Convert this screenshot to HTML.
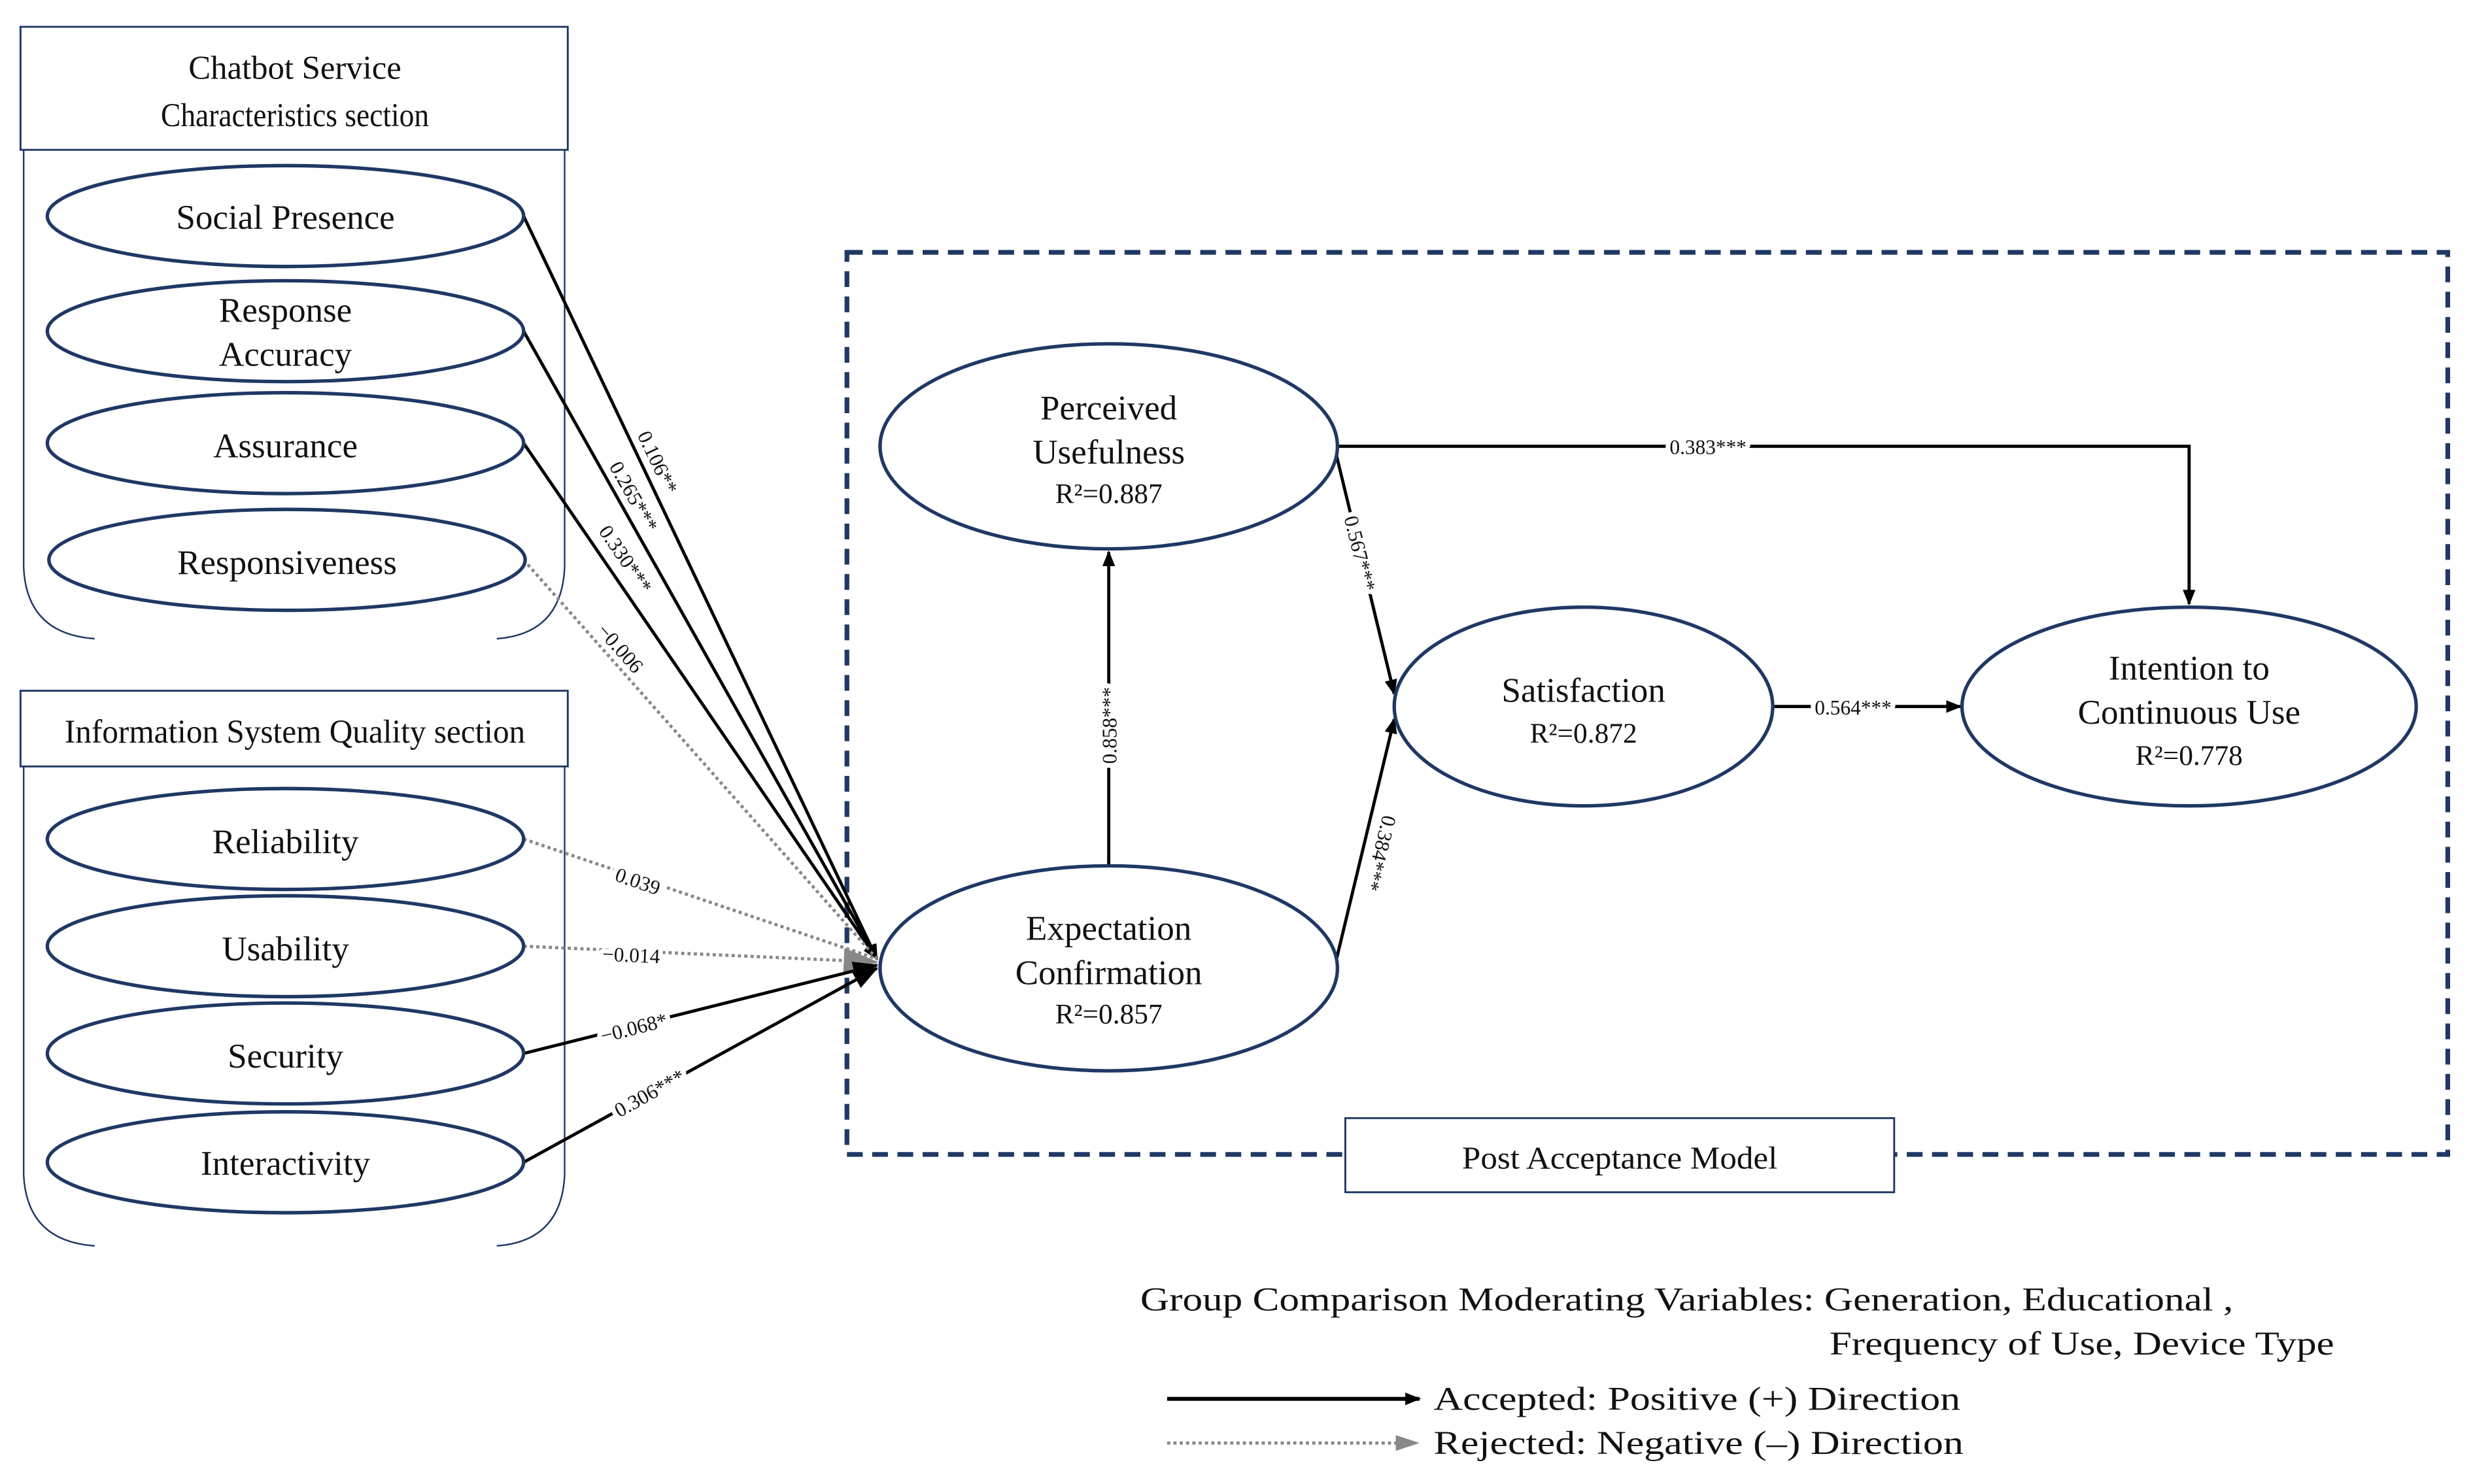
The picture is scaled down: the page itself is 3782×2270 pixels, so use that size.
<!DOCTYPE html>
<html><head><meta charset="utf-8"><style>
html,body{margin:0;padding:0;background:#fff;}
svg{display:block;}
text{font-family:"Liberation Serif","DejaVu Serif",serif;fill:#111;}
.h{paint-order:stroke;stroke:#fff;stroke-width:6px;stroke-linejoin:round;}
</style></head><body>
<svg width="3782" height="2270" viewBox="0 0 1568 941" preserveAspectRatio="none" xmlns="http://www.w3.org/2000/svg">
<defs>
<marker id="ab" markerWidth="10" markerHeight="8" refX="9" refY="4" orient="auto" markerUnits="userSpaceOnUse"><path d="M0,0 L10,4 L0,8 z" fill="#000"/></marker>
<marker id="ag" markerWidth="22" markerHeight="16" refX="21" refY="8" orient="auto" markerUnits="userSpaceOnUse"><path d="M0,0 L22,8 L0,16 z" fill="#888"/></marker>
<marker id="abig" markerWidth="16" markerHeight="12" refX="15" refY="6" orient="auto" markerUnits="userSpaceOnUse"><path d="M0,0 L16,6 L0,12 z" fill="#000"/></marker>
</defs>
<g fill="none" stroke="#1f3864">
<rect x="13" y="17" width="347" height="78" stroke-width="1.2" fill="#fff"/>
<path d="M15,95 V360 Q17,402 60,405 M358,95 V360 Q356,402 315,405" stroke-width="1"/>
<rect x="13" y="438" width="347" height="48" stroke-width="1.2" fill="#fff"/>
<path d="M15,486 V745 Q17,787 60,790 M358,486 V745 Q356,787 315,790" stroke-width="1"/>
<rect x="537" y="160" width="1015" height="572" stroke-width="3" stroke-dasharray="10,6"/>
</g>
<rect x="853" y="709" width="348" height="47" fill="#fff" stroke="#1f3864" stroke-width="1.2"/>
<text x="1027" y="741" font-size="20" text-anchor="middle" textLength="200" lengthAdjust="spacingAndGlyphs">Post Acceptance Model</text>
<text x="187" y="50" font-size="21" text-anchor="middle" textLength="135" lengthAdjust="spacingAndGlyphs">Chatbot Service</text>
<text x="187" y="80" font-size="21" text-anchor="middle" textLength="170" lengthAdjust="spacingAndGlyphs">Characteristics section</text>
<text x="187" y="471" font-size="21" text-anchor="middle" textLength="292" lengthAdjust="spacingAndGlyphs">Information System Quality section</text>

<!-- left arrows -->
<g stroke-width="2" fill="none">
<line x1="332" y1="137" x2="556" y2="608" stroke="#000" marker-end="url(#ab)"/>
<line x1="332" y1="210" x2="556" y2="608" stroke="#000" marker-end="url(#ab)"/>
<line x1="332" y1="281" x2="556" y2="608" stroke="#000" marker-end="url(#ab)"/>
<line x1="332" y1="355" x2="556" y2="608" stroke="#888" stroke-dasharray="2,2"/>
<line x1="332" y1="532" x2="556" y2="608" stroke="#888" stroke-dasharray="2,2"/>
<line x1="332" y1="600" x2="556" y2="610" stroke="#888" stroke-dasharray="2,2" marker-end="url(#ag)"/>
<line x1="332" y1="668" x2="556" y2="612" stroke="#000" marker-end="url(#abig)"/>
<line x1="332" y1="737" x2="556" y2="614" stroke="#000" marker-end="url(#abig)"/>
</g>
<g font-size="13">
<text class="h" transform="translate(413,295) rotate(64.5)" text-anchor="middle">0.106**</text>
<text class="h" transform="translate(398,317) rotate(60.5)" text-anchor="middle">0.265***</text>
<text class="h" transform="translate(393,357) rotate(55.5)" text-anchor="middle">0.330***</text>
<text class="h" transform="translate(390,414) rotate(48.5)" text-anchor="middle">−0.006</text>
<text class="h" transform="translate(403,563) rotate(19)" text-anchor="middle">0.039</text>
<text class="h" transform="translate(400,610) rotate(2.5)" text-anchor="middle">−0.014</text>
<text class="h" transform="translate(403,656) rotate(-14.4)" text-anchor="middle">−0.068*</text>
<text class="h" transform="translate(414,697) rotate(-29)" text-anchor="middle">0.306***</text>
</g>

<!-- ellipses left -->
<g fill="#fff" stroke="#1f3864" stroke-width="2.2">
<ellipse cx="181" cy="137" rx="151" ry="32"/>
<ellipse cx="181" cy="210" rx="151" ry="32"/>
<ellipse cx="181" cy="281" rx="151" ry="32"/>
<ellipse cx="182" cy="355" rx="151" ry="32"/>
<ellipse cx="181" cy="532" rx="151" ry="32"/>
<ellipse cx="181" cy="600" rx="151" ry="32"/>
<ellipse cx="181" cy="668" rx="151" ry="32"/>
<ellipse cx="181" cy="737" rx="151" ry="32"/>
</g>
<g font-size="22" text-anchor="middle">
<text x="181" y="145">Social Presence</text>
<text x="181" y="204">Response</text>
<text x="181" y="232">Accuracy</text>
<text x="181" y="290">Assurance</text>
<text x="182" y="364">Responsiveness</text>
<text x="181" y="541">Reliability</text>
<text x="181" y="609">Usability</text>
<text x="181" y="677">Security</text>
<text x="181" y="745">Interactivity</text>
</g>

<!-- PAM arrows -->
<g stroke="#000" stroke-width="2" fill="none">
<line x1="703" y1="549" x2="703" y2="350" marker-end="url(#ab)"/>
<line x1="846" y1="283" x2="884" y2="440" marker-end="url(#ab)"/>
<line x1="846" y1="614" x2="884" y2="456" marker-end="url(#ab)"/>
<path d="M846,283 H1388 V383" marker-end="url(#ab)"/>
<line x1="1124" y1="448" x2="1243" y2="448" marker-end="url(#ab)"/>
</g>
<g font-size="13">
<text class="h" transform="translate(708,460) rotate(-90)" text-anchor="middle">0.858***</text>
<text class="h" transform="translate(858,352) rotate(76)" text-anchor="middle">0.567***</text>
<text class="h" transform="translate(871,540) rotate(104)" text-anchor="middle">0.384***</text>
<text class="h" x="1083" y="288" text-anchor="middle">0.383***</text>
<text class="h" x="1175" y="453" text-anchor="middle">0.564***</text>
</g>
<g fill="#fff" stroke="#1f3864" stroke-width="2.2">
<ellipse cx="703" cy="283" rx="145" ry="65"/>
<ellipse cx="703" cy="614" rx="145" ry="65"/>
<ellipse cx="1004" cy="448" rx="120" ry="63"/>
<ellipse cx="1388" cy="448" rx="144" ry="63"/>
</g>
<g text-anchor="middle">
<text x="703" y="266" font-size="22">Perceived</text>
<text x="703" y="294" font-size="22">Usefulness</text>
<text x="703" y="319" font-size="18">R²=0.887</text>
<text x="703" y="596" font-size="22">Expectation</text>
<text x="703" y="624" font-size="22">Confirmation</text>
<text x="703" y="649" font-size="18">R²=0.857</text>
<text x="1004" y="445" font-size="22">Satisfaction</text>
<text x="1004" y="471" font-size="18">R²=0.872</text>
<text x="1388" y="431" font-size="22">Intention to</text>
<text x="1388" y="459" font-size="22">Continuous Use</text>
<text x="1388" y="485" font-size="18">R²=0.778</text>
</g>

<!-- legend -->
<g font-family="'Liberation Sans',sans-serif">
<text x="723" y="831" font-size="21" textLength="693" lengthAdjust="spacingAndGlyphs">Group Comparison Moderating Variables: Generation, Educational ,</text>
<text x="1160" y="859" font-size="21" textLength="320" lengthAdjust="spacingAndGlyphs">Frequency of Use, Device Type</text>
<text x="909" y="894" font-size="21" textLength="334" lengthAdjust="spacingAndGlyphs">Accepted: Positive (+) Direction</text>
<text x="909" y="922" font-size="21" textLength="336" lengthAdjust="spacingAndGlyphs">Rejected: Negative (–) Direction</text>
</g>
<line x1="740" y1="887" x2="900" y2="887" stroke="#000" stroke-width="2.5" marker-end="url(#ab)"/>
<line x1="740" y1="915" x2="888" y2="915" stroke="#888" stroke-width="2" stroke-dasharray="2,2"/>
<path d="M885,910 L900,915 L885,920 z" fill="#888"/>
</svg>
</body></html>
